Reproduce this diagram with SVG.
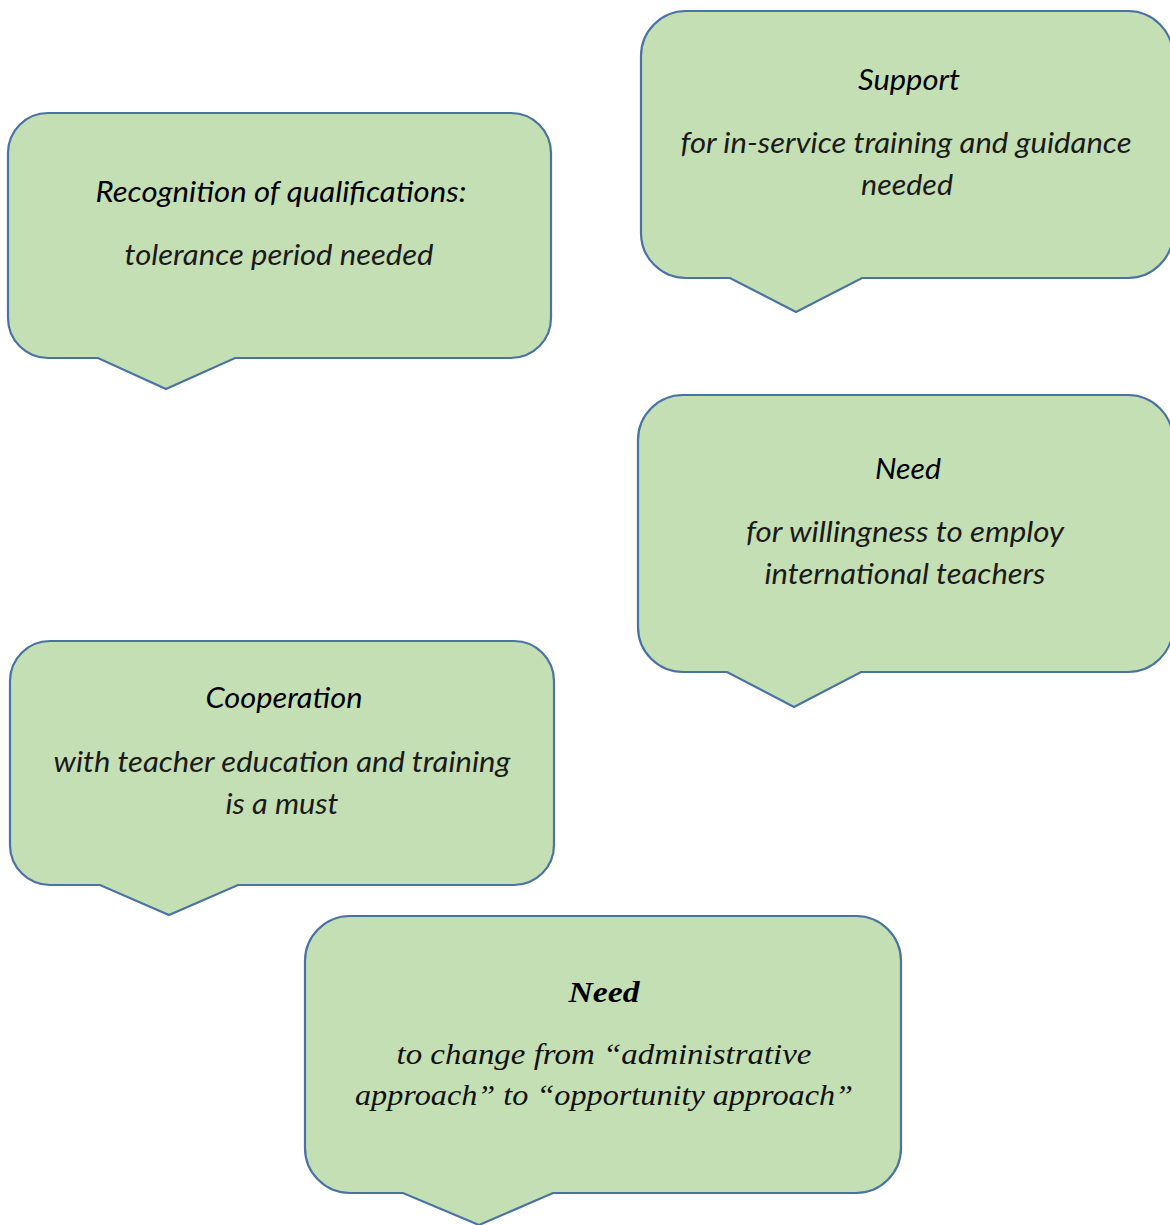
<svg xmlns="http://www.w3.org/2000/svg" width="1170" height="1225" viewBox="0 0 1170 1225">
<style>
.bubble{fill:#c5dfb4;stroke:#4a73a3;stroke-width:2.2;stroke-linejoin:miter}
.t{font-family:Lato,"Open Sans","Liberation Sans",sans-serif;font-style:italic;font-size:28px;text-anchor:middle;fill:#1a1a1a}
.h{fill:#000}
.s{font-family:"Liberation Serif","DejaVu Serif",serif;font-style:italic;font-size:30px;text-anchor:middle;fill:#111}
.sb{font-weight:bold;fill:#000}
</style>
<rect width="1170" height="1225" fill="#ffffff"/>
<g id="connectors"/>
<g id="node-recognition">
<path class="bubble" d="M48,113 H511 A40,40 0 0 1 551,153 V318 A40,40 0 0 1 511,358 H235 L166,389 L98,358 H48 A40,40 0 0 1 8,318 V153 A40,40 0 0 1 48,113 Z"/>
<text class="t h" x="281" y="202" textLength="371" lengthAdjust="spacingAndGlyphs">Recognition of qualifications:</text>
<text class="t" x="279" y="265" textLength="309" lengthAdjust="spacingAndGlyphs">tolerance period needed</text>
</g>
<g id="node-support">
<path class="bubble" d="M686,11 H1128 A45,45 0 0 1 1173,56 V233 A45,45 0 0 1 1128,278 H862 L796,312 L730,278 H686 A45,45 0 0 1 641,233 V56 A45,45 0 0 1 686,11 Z"/>
<text class="t h" x="909" y="90" textLength="102" lengthAdjust="spacingAndGlyphs">Support</text>
<text class="t" x="906" y="153" textLength="451" lengthAdjust="spacingAndGlyphs">for in-service training and guidance</text>
<text class="t" x="907" y="195" textLength="92" lengthAdjust="spacingAndGlyphs">needed</text>
</g>
<g id="node-need-willingness">
<path class="bubble" d="M683,395 H1128 A45,45 0 0 1 1173,440 V627 A45,45 0 0 1 1128,672 H861 L794,707 L727,672 H683 A45,45 0 0 1 638,627 V440 A45,45 0 0 1 683,395 Z"/>
<text class="t h" x="908" y="479" textLength="66" lengthAdjust="spacingAndGlyphs">Need</text>
<text class="t" x="905" y="542" textLength="318" lengthAdjust="spacingAndGlyphs">for willingness to employ</text>
<text class="t" x="905" y="584" textLength="281" lengthAdjust="spacingAndGlyphs">international teachers</text>
</g>
<g id="node-cooperation">
<path class="bubble" d="M50,641 H514 A40,40 0 0 1 554,681 V845 A40,40 0 0 1 514,885 H238 L169,915 L100,885 H50 A40,40 0 0 1 10,845 V681 A40,40 0 0 1 50,641 Z"/>
<text class="t h" x="284" y="708" textLength="157" lengthAdjust="spacingAndGlyphs">Cooperation</text>
<text class="t" x="282" y="772" textLength="457" lengthAdjust="spacingAndGlyphs">with teacher education and training</text>
<text class="t" x="282" y="814" textLength="113" lengthAdjust="spacingAndGlyphs">is a must</text>
</g>
<g id="node-need-change">
<path class="bubble" d="M350,916 H856 A45,45 0 0 1 901,961 V1148 A45,45 0 0 1 856,1193 H553 L479,1225 L403,1193 H350 A45,45 0 0 1 305,1148 V961 A45,45 0 0 1 350,916 Z"/>
<text class="s sb" x="604" y="1002" textLength="71" lengthAdjust="spacingAndGlyphs">Need</text>
<text class="s" x="604" y="1064" textLength="415" lengthAdjust="spacingAndGlyphs">to change from “administrative</text>
<text class="s" x="604" y="1105" textLength="498" lengthAdjust="spacingAndGlyphs">approach” to “opportunity approach”</text>
</g>
</svg>
